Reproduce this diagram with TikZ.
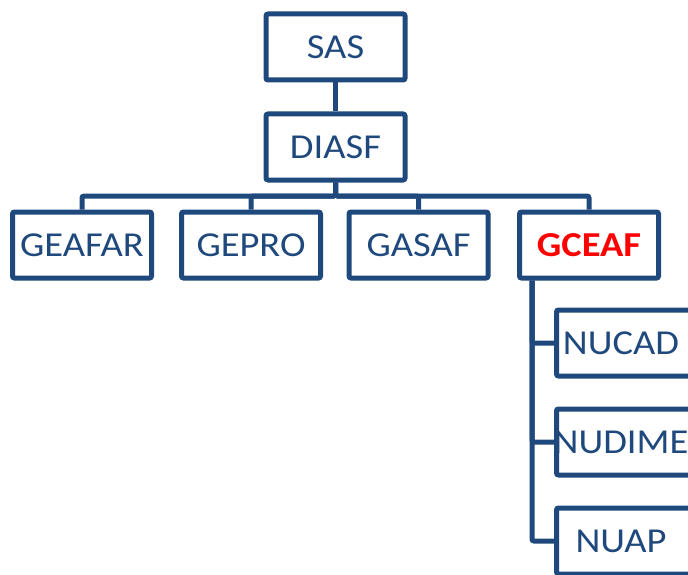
\documentclass[tikz,border=0pt]{standalone}
\usepackage{fontspec}
\setmainfont{Carlito}[FakeStretch=1.1]
\usetikzlibrary{positioning}
\definecolor{navy}{RGB}{31,73,125}
\definecolor{red}{RGB}{255,0,0}

\tikzset{
  unit/.style={draw=navy, line width=5pt, rounded corners=2pt, fill=white,
               minimum width=139pt, minimum height=66pt, inner sep=0pt,
               text=navy, font=\fontsize{35}{40}\selectfont},
  subunit/.style={unit, execute at begin node={\hspace*{-10pt}}},
  wire/.style={draw=navy, line width=5pt, rounded corners=2pt}
}

\begin{document}
\begin{tikzpicture}[x=1pt,y=1pt]

\useasboundingbox (0,0) rectangle (688,-575);
\clip (0,0) rectangle (688,-575);

%---------------------------------------
% Top levels
%---------------------------------------
\node[unit] (sas)   at (335.5,-47)  {SAS};
\node[unit] (diasf) at (335.5,-147) {DIASF};

%---------------------------------------
% Second row
%---------------------------------------
\node[unit] (geafar) at (82,-245)    {GEAFAR};
\node[unit] (gepro)  at (251,-245)   {GEPRO};
\node[unit] (gasaf)  at (418.5,-245) {GASAF};
\node[unit, text=red, font=\fontsize{35}{40}\selectfont\bfseries] (gceaf) at (589,-245) {GCEAF};

%---------------------------------------
% Units below GCEAF
%---------------------------------------
\node[subunit] (nucad)  at (626,-343) {NUCAD};
\node[subunit] (nudime) at (626,-442) {NUDIME};
\node[subunit] (nuap)   at (626,-541) {NUAP};

% Bus and spine
\coordinate (bus)   at (0,-196);
\coordinate (spine) at (532,0);

%---------------------------------------
% Connectors
%---------------------------------------
\draw[wire] (sas) -- (diasf);
\foreach \n in {geafar,gepro,gasaf,gceaf}{
  \draw[wire] (diasf.south) -- (diasf.south |- bus) -| (\n.north);
}
\foreach \n in {nucad,nudime,nuap}{
  \draw[wire] (spine |- gceaf.south) |- (\n.west);
}

\end{tikzpicture}
\end{document}
